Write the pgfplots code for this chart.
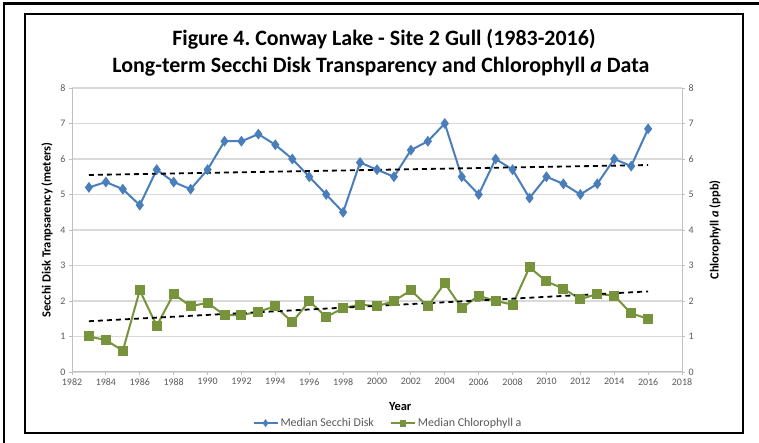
\documentclass[border=0pt]{standalone}
\usepackage{pgfplots}
\pgfplotsset{compat=1.18}
\usepackage{fontspec}
\setmainfont{Carlito}
\frenchspacing
\definecolor{sblue}{HTML}{4A7EBB}
\definecolor{sgreen}{HTML}{77933C}
\definecolor{tickgray}{HTML}{595959}
\definecolor{gridgray}{HTML}{D9D9D9}
\definecolor{axgray}{HTML}{BFBFBF}
\begin{document}
\begin{tikzpicture}[x=1bp,y=1bp]
\useasboundingbox (0,0) rectangle (759,443);
\fill[white] (0,0) rectangle (759,443);
\draw[line width=2.5bp] (4,0) -- (4,439.5) -- (759,439.5);
\draw[line width=1.2bp] (25,10) rectangle (743,429);
\node[font=\bfseries\fontsize{22}{24}\selectfont, anchor=base] at (384,397) {Figure 4. Conway Lake - Site 2 Gull (1983-2016)};
\node[font=\bfseries\fontsize{22}{24}\selectfont, anchor=base] at (381,370) {Long-term Secchi Disk Transparency and Chlorophyll \textit{a} Data};
\begin{axis}[
  at={(72bp,71bp)}, anchor=south west, scale only axis,
  width=610bp, height=284bp,
  xmin=1982, xmax=2018, ymin=0, ymax=8,
  xtick={1982,1984,...,2018}, ytick={0,1,...,8},
  axis x line*=bottom, axis y line*=left,
  axis line style={axgray, line width=1bp},
  ymajorgrids, grid style={gridgray, line width=1.2bp},
  tick align=outside, major tick length=3bp,
  tick style={axgray, line width=0.8bp},
  xticklabel style={/pgf/number format/1000 sep={}},
  /pgf/number format/assume math mode=true,
  ticklabel style={font=\fontsize{10}{12}\selectfont, text=tickgray},
  ylabel={\textbf{Secchi Disk Tranpsarency (meters)}},
  ylabel style={at={(axis description cs:-0.041,0.5)}, anchor=center, font=\fontsize{12.5}{14}\selectfont},
  xlabel={\textbf{Year}},
  xlabel style={at={(axis description cs:0.538,-0.123)}, anchor=center, font=\fontsize{12.5}{14}\selectfont},
  legend style={at={(axis description cs:0.518,-0.18)}, anchor=center, draw=none,
    nodes={font=\fontsize{12}{14}\selectfont, text=tickgray}, legend columns=2,
    /tikz/every even column/.append style={column sep=14bp}},
  legend image code/.code={\draw[#1, mark options={scale=0.6}, mark repeat=2, mark phase=2] plot coordinates {(0bp,0bp) (12bp,0bp) (24bp,0bp)};},
]
\addplot[sblue, line width=2bp, mark=diamond*, mark size=3.8bp] coordinates {
(1983,5.2)(1984,5.35)(1985,5.15)(1986,4.7)(1987,5.7)(1988,5.35)(1989,5.15)(1990,5.7)
(1991,6.5)(1992,6.5)(1993,6.7)(1994,6.4)(1995,6.0)(1996,5.5)(1997,5.0)(1998,4.5)
(1999,5.9)(2000,5.7)(2001,5.5)(2002,6.25)(2003,6.5)(2004,7.0)(2005,5.5)(2006,5.0)
(2007,6.0)(2008,5.7)(2009,4.9)(2010,5.5)(2011,5.3)(2012,5.0)(2013,5.3)(2014,6.0)
(2015,5.8)(2016,6.85)};
\addlegendentry{Median Secchi Disk}
\addplot[sgreen, line width=2bp, mark=square*, mark size=4bp] coordinates {
(1983,1.0)(1984,0.9)(1985,0.6)(1986,2.3)(1987,1.3)(1988,2.2)(1989,1.85)(1990,1.95)
(1991,1.6)(1992,1.6)(1993,1.7)(1994,1.85)(1995,1.4)(1996,2.0)(1997,1.55)(1998,1.8)
(1999,1.9)(2000,1.85)(2001,2.0)(2002,2.3)(2003,1.85)(2004,2.5)(2005,1.8)(2006,2.15)
(2007,2.0)(2008,1.9)(2009,2.95)(2010,2.55)(2011,2.35)(2012,2.05)(2013,2.2)(2014,2.15)
(2015,1.65)(2016,1.5)};
\addlegendentry{Median Chlorophyll a}
\addplot[black, line width=1.8bp, dash pattern=on 5bp off 4bp, forget plot] coordinates {(1983,5.55)(2016,5.83)};
\addplot[black, line width=1.8bp, dash pattern=on 5bp off 4bp, forget plot] coordinates {(1983,1.43)(2016,2.27)};
\end{axis}
\begin{axis}[
  at={(72bp,71bp)}, anchor=south west, scale only axis,
  width=610bp, height=284bp,
  xmin=1982, xmax=2018, ymin=0, ymax=8,
  ytick={0,1,...,8},
  axis x line=none, axis y line*=right,
  axis line style={axgray, line width=1bp},
  tick align=outside, major tick length=3bp,
  tick style={axgray, line width=0.8bp},
  /pgf/number format/assume math mode=true,
  ticklabel style={font=\fontsize{10}{12}\selectfont, text=tickgray},
  ylabel={\textbf{Chlorophyll \textit{a} (ppb)}},
  ylabel style={at={(axis description cs:1.054,0.5)}, anchor=center, font=\fontsize{12.5}{14}\selectfont},
]
\end{axis}
\end{tikzpicture}
\end{document}
